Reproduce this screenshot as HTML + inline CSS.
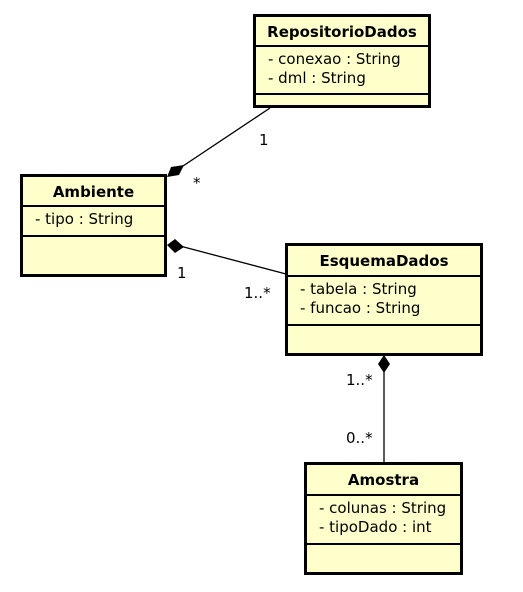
<!DOCTYPE html>
<html><head><style>
body{margin:0;width:523px;height:592px;background:#fff;position:relative;font-family:"DejaVu Sans","Liberation Sans",sans-serif;overflow:hidden}
.b{position:absolute;background:#ffffcc;border:3px solid #000;box-sizing:border-box}
.h{font-weight:bold;font-size:15px;text-align:center;border-bottom:2px solid #000;box-sizing:border-box}
.a{font-size:15px;border-bottom:2px solid #000;box-sizing:border-box;padding:3px 0 0 12px;line-height:19px}
.l{position:absolute;font-size:15px}
</style></head><body>
<svg width="523" height="592" style="position:absolute;left:0;top:0">
<line x1="270" y1="108" x2="180" y2="168" stroke="#000" stroke-width="1.3"/>
<polygon points="167,177 171,167 184,165 179,175" fill="#000"/>
<line x1="180" y1="246" x2="286" y2="274" stroke="#000" stroke-width="1.3"/>
<polygon points="167,245 175,239 184,247 175,253" fill="#000"/>
<line x1="384" y1="370" x2="384" y2="462" stroke="#000" stroke-width="1.3"/>
<polygon points="384,355 390,364 384,373 378,364" fill="#000"/>
</svg>
<div class="b" style="left:253px;top:14px;width:178px;height:94px">
<div class="h" style="height:30px;line-height:30px">RepositorioDados</div>
<div class="a" style="height:48px">- conexao : String<br>- dml : String</div></div>
<div class="b" style="left:20px;top:174px;width:147px;height:103px">
<div class="h" style="height:30px;line-height:30px">Ambiente</div>
<div class="a" style="height:30px">- tipo : String</div></div>
<div class="b" style="left:285px;top:243px;width:198px;height:113px">
<div class="h" style="height:31px;line-height:31px">EsquemaDados</div>
<div class="a" style="height:49px">- tabela : String<br>- funcao : String</div></div>
<div class="b" style="left:304px;top:462px;width:159px;height:113px">
<div class="h" style="height:31px;line-height:31px">Amostra</div>
<div class="a" style="height:49px">- colunas : String<br>- tipoDado : int</div></div>
<div class="l" style="left:259px;top:131px">1</div>
<div class="l" style="left:193px;top:174px">*</div>
<div class="l" style="left:177px;top:264px">1</div>
<div class="l" style="left:244px;top:284px">1..*</div>
<div class="l" style="left:346px;top:371px">1..*</div>
<div class="l" style="left:346px;top:429px">0..*</div>
</body></html>
